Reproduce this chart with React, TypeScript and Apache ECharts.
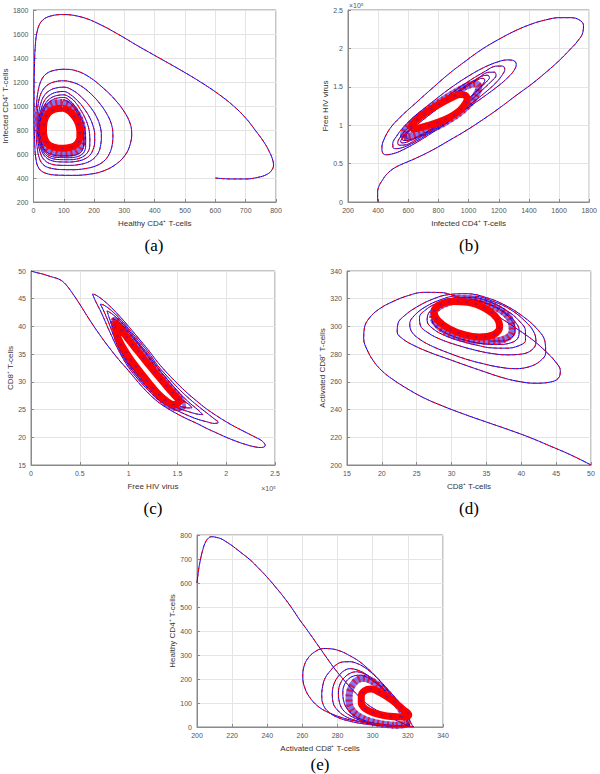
import React, { useEffect, useRef } from "react";
import * as echarts from "echarts";

type Pt = [number, number];

// ---------- axis ranges: [min, max, interval] ----------
const aXRange = [0, 800, 100];
const aYRange = [200, 1800, 200];
const bXRange = [200, 1800, 200];
const bYRange = [0, 2.5, 0.5]; // x 10^5
const cXRange = [0, 2.5, 0.5]; // x 10^5
const cYRange = [15, 50, 5];
const dXRange = [15, 50, 5];
const dYRange = [200, 340, 20];
const eXRange = [200, 340, 20];
const eYRange = [0, 800, 100];

const xNames = [
  "Healthy CD4⁺ T-cells",
  "Infected CD4⁺ T-cells",
  "Free HIV virus",
  "CD8⁺ T-cells",
  "Activated CD8⁺ T-cells",
];
const yNames = [
  "Infected CD4⁺ T-cells",
  "Free HIV virus",
  "CD8⁺ T-cells",
  "Activated CD8⁺ T-cells",
  "Healthy CD4⁺ T-cells",
];
const panelLabels = ["(a)", "(b)", "(c)", "(d)", "(e)"];
const exponentLabel = "×10⁵";

// ---------- (a) healthy (x) vs infected (y) ----------
const aPath: Pt[] = [
  [600,400],[650,392],[700,392],[740,405],[770,430],[786,465],[792,510],[788,560],[778,620],[760,700],[731,800],[700,900],[660,1000],[610,1100],[551,1200],[485,1300],[415,1400],[345,1500],[278,1600],[215,1685],[160,1740],[100,1762],[60,1752],[30,1715],[14,1640],[6,1500],[3,1300],[2,1100],[2,900],[4,700],[8,560],[18,480],[40,440],[80,424],[130,422],
  [180,430],[230,458],[275,520],[305,600],[320,690],[324,774],[318,860],[300,950],[270,1050],[230,1150],[185,1240],[145,1290],[105,1306],
  [70,1298],[42,1268],[25,1210],[15,1120],[10,1010],[8,900],[9,780],[12,660],[20,560],[35,505],[60,480],[95,470],[130,469],
  [170,478],[205,500],[232,540],[250,600],[260,680],[262,760],[258,840],[245,920],[222,1010],[190,1100],[155,1170],[125,1200],[100,1210],
  [72,1203],[48,1178],[30,1130],[19,1060],[14,980],[12,890],[13,790],[16,690],[24,600],[38,545],[60,515],[90,506],[120,505],
  [150,512],[178,530],[200,565],[215,615],[222,680],[224,750],[220,830],[208,910],[188,990],[160,1070],[130,1130],[100,1157],
  [74,1150],[52,1127],[35,1085],[24,1020],[18,950],[15,870],[16,780],[19,700],[27,625],[41,572],[62,543],[90,534],[118,533],
  [145,540],[168,558],[186,590],[197,640],[202,700],[202,760],[197,830],[186,900],[168,975],[145,1045],[122,1095],[100,1121],
  [76,1115],[55,1093],[39,1055],[28,995],[21,925],[18,850],[19,770],[22,695],[30,630],[44,585],[65,560],[92,553],[118,552],
  [142,558],[162,576],[177,608],[185,655],[186,710],[185,770],[180,835],[170,900],[155,970],[135,1040],[118,1075],[100,1093],
  [77,1087],[57,1066],[42,1030],[31,975],[24,910],[21,840],[22,765],[25,695],[33,635],[47,595],[68,575],[93,570],[118,569],
  [140,575],[157,592],[168,622],[172,670],[172,730],[170,790],[164,855],[154,920],[140,985],[122,1040],[100,1071],
  [77,1065],[58,1045],[44,1010],[34,960],[27,900],[24,835],[24,765],[27,700],[34,645],[48,608],[68,590],[93,585],[118,585],
  [138,591],[153,607],[162,635],[166,680],[166,740],[163,800],[157,865],[147,930],[133,990],[118,1030],[100,1052],
];
const aHalo: Pt[] = [
  [95,1030],[66,1020],[45,990],[32,940],[26,870],[25,800],[28,730],[36,675],[50,635],[72,612],[100,604],[125,610],[144,630],[156,665],[162,715],[162,790],[157,860],[147,920],[132,975],[115,1012],[95,1030],
];
const aLimit: Pt[] = [
  [95,982],[70,974],[52,948],[40,905],[34,850],[33,790],[36,735],[44,692],[58,665],[78,651],[100,648],[120,654],[136,670],[147,698],[153,740],[153,790],[149,845],[140,895],[126,940],[112,968],[95,982],
];

// ---------- (b) infected (x) vs virus (y, x10^5) ----------
const bPath: Pt[] = [
  [400,0],[396,0.06],[396,0.12],[404,0.2],[430,0.29],[461,0.37],[505,0.44],[544,0.48],[650,0.57],[764,0.68],[870,0.8],[983,0.93],[1100,1.08],[1202,1.22],[1310,1.38],[1421,1.54],[1520,1.7],[1600,1.84],[1670,1.98],[1725,2.1],[1758,2.21],[1762,2.3],[1735,2.37],[1680,2.4],[1600,2.4],[1510,2.37],[1421,2.32],[1310,2.23],[1202,2.12],[1090,1.99],[983,1.84],[870,1.67],[764,1.49],[650,1.29],[544,1.1],[480,0.96],[440,0.82],[425,0.71],[430,0.64],[450,0.615],[490,0.625],
  [544,0.66],[650,0.77],[764,0.91],[870,1.05],[983,1.21],[1100,1.37],[1202,1.52],[1260,1.62],[1300,1.71],[1316,1.79],[1300,1.84],[1260,1.85],[1202,1.83],[1100,1.75],[983,1.62],[870,1.47],[764,1.31],[650,1.13],[570,0.98],[520,0.85],[497,0.76],[498,0.71],[515,0.695],[545,0.7],
  [650,0.79],[764,0.93],[870,1.07],[983,1.23],[1100,1.41],[1180,1.55],[1225,1.66],[1240,1.73],[1225,1.77],[1190,1.77],[1100,1.69],[983,1.55],[870,1.39],[764,1.24],[670,1.09],[590,0.95],[545,0.84],[530,0.77],[540,0.74],[565,0.74],
  [650,0.81],[764,0.95],[870,1.1],[983,1.27],[1080,1.44],[1150,1.57],[1182,1.65],[1172,1.69],[1140,1.69],[1050,1.59],[950,1.45],[850,1.3],[750,1.15],[660,1.01],[595,0.9],[555,0.82],[550,0.78],[565,0.77],[590,0.78],
  [680,0.86],[780,0.98],[880,1.13],[980,1.3],[1060,1.45],[1115,1.56],[1138,1.62],[1125,1.65],[1090,1.64],[1010,1.55],[920,1.43],[820,1.29],[730,1.15],[650,1.02],[595,0.92],[565,0.85],[562,0.81],[575,0.8],
  [690,0.88],[790,1.0],[890,1.15],[985,1.32],[1060,1.46],[1100,1.55],[1108,1.59],[1090,1.61],[1050,1.58],[980,1.5],[900,1.4],[810,1.27],[720,1.13],[650,1.02],[605,0.93],[585,0.87],[588,0.83],[600,0.83],
];
const bHalo: Pt[] = [
  [570,0.84],[640,0.87],[720,0.92],[800,0.99],[880,1.08],[960,1.19],[1020,1.31],[1060,1.43],[1068,1.5],[1045,1.54],[1000,1.52],[940,1.46],[870,1.38],[790,1.28],[710,1.17],[640,1.06],[590,0.95],[568,0.88],[570,0.84],
];
const bLimit: Pt[] = [
  [615,0.95],[660,0.96],[720,0.99],[800,1.04],[880,1.11],[940,1.19],[975,1.27],[990,1.34],[978,1.39],[945,1.4],[900,1.37],[830,1.3],[760,1.22],[700,1.14],[650,1.06],[620,0.99],[615,0.95],
];

// ---------- (c) virus (x, x10^5) vs CD8 (y) ----------
const cPath: Pt[] = [
  [0,50],[0.06,49.7],[0.13,49.4],[0.2,49.0],[0.26,48.7],[0.31,48.3],[0.36,47.5],[0.42,46.1],[0.5,44.0],[0.6,41.2],[0.7,38.6],[0.8,36.2],[0.9,34.0],[1.0,32.0],[1.1,29.9],[1.2,28.0],[1.3,26.4],[1.4,25.2],[1.5,24.2],[1.6,23.3],[1.7,22.5],[1.8,21.6],[1.9,20.8],[2.0,20.0],[2.1,19.3],[2.2,18.7],[2.3,18.25],[2.36,18.15],[2.4,18.5],
  [2.37,19.3],[2.3,20.0],[2.2,20.9],[2.1,21.8],[2.0,22.8],[1.9,23.9],[1.8,25.1],[1.7,26.5],[1.6,28.0],[1.5,29.7],[1.4,31.5],[1.3,33.5],[1.2,35.8],[1.1,37.9],[1.0,40.0],[0.9,42.0],[0.8,43.8],[0.72,45.0],[0.66,45.7],[0.63,45.85],
  [0.66,44.6],[0.72,42.5],[0.8,39.3],[0.9,35.6],[1.0,32.6],[1.1,30.4],[1.2,28.5],[1.3,26.9],[1.4,25.7],[1.5,24.8],[1.6,24.0],[1.7,23.3],[1.8,22.8],[1.88,22.5],[1.92,22.7],
  [1.88,23.3],[1.8,24.4],[1.7,25.8],[1.6,27.3],[1.5,29.0],[1.4,30.9],[1.3,32.9],[1.2,35.4],[1.1,37.5],[1.0,39.6],[0.9,41.6],[0.8,43.2],[0.74,43.9],[0.71,44.0],
  [0.74,43.0],[0.8,40.5],[0.9,36.0],[1.0,33.0],[1.1,30.8],[1.2,28.9],[1.3,27.3],[1.4,26.1],[1.5,25.3],[1.6,24.7],[1.7,24.2],[1.76,24.1],
  [1.72,24.8],[1.6,26.6],[1.5,28.4],[1.4,30.4],[1.3,32.5],[1.2,35.0],[1.1,37.1],[1.0,39.3],[0.9,41.2],[0.82,42.4],[0.78,42.8],
  [0.8,41.6],[0.85,39.2],[0.9,36.4],[1.0,33.4],[1.1,31.2],[1.2,29.2],[1.3,27.6],[1.4,26.5],[1.5,25.8],[1.6,25.3],[1.65,25.3],
  [1.62,25.9],[1.5,27.4],[1.4,29.4],[1.3,31.8],[1.2,34.6],[1.1,36.8],[1.0,38.9],[0.9,40.8],[0.84,41.4],
];
const cHalo: Pt[] = [
  [0.83,41.0],[0.88,38.0],[1.0,33.6],[1.1,31.2],[1.2,29.1],[1.3,27.1],[1.4,25.7],[1.5,25.1],[1.57,25.6],[1.55,26.8],[1.47,28.5],[1.4,29.9],[1.3,32.1],[1.2,34.3],[1.1,36.5],[1.0,38.7],[0.92,40.5],[0.86,41.4],[0.83,41.0],
];
const cLimit: Pt[] = [
  [0.86,40.0],[0.9,37.6],[1.0,34.6],[1.1,32.2],[1.2,30.0],[1.3,27.9],[1.4,26.4],[1.47,25.9],[1.52,26.5],[1.47,27.6],[1.4,29.0],[1.3,31.1],[1.2,33.2],[1.1,35.4],[1.0,37.6],[0.92,39.5],[0.87,40.4],[0.86,40.0],
];

// ---------- (d) CD8 (x) vs activated CD8 (y) ----------
const dPath: Pt[] = [
  [50,200],[47,207.5],[44,214],[41,220.3],[38,225.8],[35,231],[32,236.3],[29,242],[26,248.5],[23.5,255.5],[21.5,262],[20,268],[18.8,275],[17.9,283],[17.4,291],[17.5,299],[18.2,306],[19.6,312.5],[21.6,318],[23.8,322.3],[26,324.6],[28.3,324.5],[30.5,322],[32.6,318],[34.8,312.5],[37.2,305.5],[39.6,297.5],[41.7,290],[43.5,282],[44.9,274.5],[45.6,268],[45.3,262.5],[44,259.7],[42,259],
  [39.4,260.5],[37,263.5],[34.6,267.5],[32,272],[29.5,276.5],[27,281],[24.7,286],[23,291],[22.2,296],[22.3,302],[23.3,308],[25,314],[27.2,319.5],[29.6,323],[32.2,323.6],[35,320.8],[37.8,315],[40.3,307],[42.3,298],[43.4,289],[43.5,281],[42.7,275],[41.2,271],[39.2,269.5],
  [37,270.5],[34.6,273],[32,276.5],[29.5,281],[27.3,285.5],[25.5,290.5],[24.3,296],[24,302],[24.7,308],[26.2,314],[28.3,319],[30.8,322],[33.3,321.8],[36,318],[38.5,312],[40.5,304],[41.8,296],[42.1,288.5],[41.5,283],[40,280],[38,279.5],
  [35.7,280.5],[33.3,283],[30.8,286.5],[28.5,290.5],[26.6,295.5],[25.5,301],[25.4,306.5],[26.3,312],[28,317],[30.4,320.5],[33,320.8],[35.6,317.5],[37.9,311.5],[39.7,304],[40.6,296.5],[40.6,290],[39.6,286],[37.8,284.3],[35.8,284.5],
  [33.6,286.5],[31.2,289.5],[29,293.5],[27.3,298.5],[26.5,304],[26.7,309.5],[27.9,314.5],[30,318.5],[32.6,319.5],[35.2,316.5],[37.4,311],[39,304],[39.7,297],[39.5,291.5],[38.4,288],[36.6,287],
  [34.5,287.5],[32,290],[29.7,294],[28,299],[27.2,304.5],[27.4,310],[28.6,314.8],[30.6,318],[33,318.5],[35.5,315.5],[37.5,310],[38.8,303],[39.1,296.5],[38.6,292],[37.3,289.5],[35.5,289.5],
];
const dHalo: Pt[] = [
  [27.3,306],[27.7,312],[29.3,316.8],[31.8,319],[34.7,317.3],[37.1,311.5],[38.5,304],[38.7,297],[37.8,291.3],[35.6,289.3],[33,290.3],[30.4,293.5],[28.4,299],[27.3,306],
];
const dLimit: Pt[] = [
  [27.4,311],[28.2,315.5],[30,318],[32.3,317.5],[34.8,313],[36.5,306],[36.9,299.5],[36,294],[34,292.3],[31.8,294],[29.6,298.5],[28,304.5],[27.4,311],
];

// ---------- (e) activated CD8 (x) vs healthy (y) ----------
const ePath: Pt[] = [
  [200,600],[200.8,650],[201.9,696],[203,730],[204.5,765],[206.6,788],[208.5,793],[211,790],[213.2,786],[217,770],[220.8,751],[225,727],[230.3,696],[235,662],[239.7,626],[244.5,585],[249.2,543],[254,495],[258.6,445],[263.4,397],[268.1,348],[272.8,299],[277.6,250],[282.3,207],[287,167],[291.8,130],[296.5,97],[301.2,74],[305.9,56],[310.6,38],[315.4,21],[319,9],[322,2],[323.5,0.5],
  [318,3],[310,8],[300,15],[290,25],[282,40],[275,60],[270,80],[265,115],[261.5,160],[260.2,210],[260.8,250],[263,285],[267,313],[272,327],[277,325],[282,315],[287,297],[292,275],[297,245],[302,209],[307,170],[312,128],[316,90],[319.5,50],[321.5,20],[322.5,5],[321,1],
  [315,2],[305,6],[295,13],[287,24],[280,40],[275,62],[272,90],[271,130],[271.5,170],[273,205],[276,235],[279,258],[283,271],[287,272],[291,265],[295,250],[299,228],[303,200],[307,165],[311,125],[315,82],[318.5,42],[320.5,15],[321,4],
  [314,3],[305,8],[297,16],[290,28],[284,46],[280,70],[277.5,100],[277,140],[278,180],[280.5,212],[284,236],[287.5,243],[291,238],[295,225],[299,205],[303,180],[307,150],[311,115],[315,75],[318.5,38],[320.3,14],[320.5,5],
  [313,4],[305,9],[298,18],[292,30],[287,48],[283,72],[281,105],[280.5,145],[281.5,180],[284,207],[287.5,225],[291,230],[294.5,224],[298,210],[302,188],[306,160],[310,125],[314,88],[317.5,50],[319.7,20],[320,8],
  [312,5],[305,10],[299,19],[293.5,32],[289,50],[285.5,75],[283.5,108],[283,145],[284,178],[286.5,202],[290,214],[293,216],[296.5,208],[300,193],[304,170],[308,140],[312,107],[315.5,72],[318.5,38],[319.8,16],[319.5,8],
];
const eHalo: Pt[] = [
  [312,7],[305,13],[299,23],[294,37],[290,56],[287.3,82],[286.5,115],[287,150],[289,180],[291.8,198],[295,203],[298.3,196],[301.5,182],[305.2,161],[309,134],[313,102],[316.5,68],[319,37],[319.5,17],[317,9],[312,7],
];
const eLimit: Pt[] = [
  [316,42],[308,46],[301,58],[296,75],[293.5,100],[293.5,130],[295.5,152],[299,158],[303,148],[308,127],[313,100],[317.5,72],[320.5,50],[319.5,43],[316,42],
];

// ---------- layout ----------
const GRIDS = [
  { left: 32, top: 10, width: 244, height: 192 },
  { left: 348, top: 10, width: 243, height: 192 },
  { left: 31, top: 271, width: 244, height: 194 },
  { left: 347, top: 271, width: 244, height: 194 },
  { left: 197, top: 535, width: 246, height: 192 },
];
const Y_NAME_GAPS = [22, 17, 14, 20, 18];
const LABEL_POS: Pt[] = [[154, 245], [469, 245], [153, 508], [469, 508], [320, 764]];

const FONT = "'Liberation Sans', Arial, Helvetica, sans-serif";
const AXIS_COLOR = "#8a8a8a";

const PANELS = [
  { x: aXRange, y: aYRange, path: aPath, halo: aHalo, limit: aLimit, haloW: 7 },
  { x: bXRange, y: bYRange, path: bPath, halo: bHalo, limit: bLimit, haloW: 7 },
  { x: cXRange, y: cYRange, path: cPath, halo: cHalo, limit: cLimit, haloW: 4 },
  { x: dXRange, y: dYRange, path: dPath, halo: dHalo, limit: dLimit, haloW: 7 },
  { x: eXRange, y: eYRange, path: ePath, halo: eHalo, limit: eLimit, haloW: 7 },
];

function axis(range: number[], name: string, gridIndex: number, nameGap: number) {
  return {
    type: "value",
    gridIndex,
    min: range[0],
    max: range[1],
    interval: range[2],
    name,
    nameLocation: "middle",
    nameGap,
    nameTextStyle: { fontSize: 8, color: "#333", fontFamily: FONT },
    axisLine: { show: true, lineStyle: { color: AXIS_COLOR, width: 1 } },
    axisTick: { show: true, inside: true, length: 3, lineStyle: { color: AXIS_COLOR } },
    axisLabel: {
      fontSize: 7,
      color: "#555",
      margin: 5,
      fontFamily: FONT,
      formatter: (v: number) => String(Math.round(v * 1000) / 1000),
    },
    splitLine: { show: true, lineStyle: { color: "#e4e4e4", width: 1 } },
  };
}

function buildOption() {
  const series: any[] = [];
  PANELS.forEach((p, i) => {
    const base = {
      type: "line",
      xAxisIndex: i,
      yAxisIndex: i,
      showSymbol: false,
      symbol: "none",
      silent: true,
      smooth: 0.4,
    };
    series.push({ ...base, data: p.halo, z: 1, lineStyle: { color: "rgba(40,30,235,0.6)", width: p.haloW } });
    series.push({ ...base, data: p.halo, z: 1, lineStyle: { color: "rgba(235,0,40,0.8)", width: p.haloW, type: [2, 3] } });
    series.push({ ...base, data: p.path, z: 2, lineStyle: { color: "#0000ff", width: 1 } });
    series.push({ ...base, data: p.path, z: 3, lineStyle: { color: "#ff0000", width: 1, type: [3, 3] } });
    series.push({ ...base, data: p.limit, z: 4, lineStyle: { color: "#ff0000", width: 7 } });
    series.push({ ...base, data: p.limit, z: 5, lineStyle: { color: "rgba(60,20,220,0.55)", width: 2, type: [2, 7] } });
  });

  const graphic: any[] = LABEL_POS.map((pos, i) => ({
    type: "text",
    x: pos[0],
    y: pos[1],
    style: {
      text: panelLabels[i],
      fontSize: 17,
      fontFamily: "'Liberation Serif', 'Times New Roman', serif",
      fill: "#000",
      textAlign: "center",
      textVerticalAlign: "middle",
    },
  }));
  graphic.push({
    type: "text",
    x: 349,
    y: 5,
    style: { text: exponentLabel, fontSize: 7, fontFamily: FONT, fill: "#555", textAlign: "left", textVerticalAlign: "middle" },
  });
  graphic.push({
    type: "text",
    x: 276,
    y: 488,
    style: { text: exponentLabel, fontSize: 7, fontFamily: FONT, fill: "#555", textAlign: "right", textVerticalAlign: "middle" },
  });

  return {
    animation: false,
    backgroundColor: "#ffffff",
    grid: GRIDS.map((g) => ({ ...g, show: true, borderColor: AXIS_COLOR, borderWidth: 1, containLabel: false })),
    xAxis: PANELS.map((p, i) => axis(p.x, xNames[i], i, 17)),
    yAxis: PANELS.map((p, i) => axis(p.y, yNames[i], i, Y_NAME_GAPS[i])),
    series,
    graphic,
  };
}

export default function App() {
  const ref = useRef<HTMLDivElement>(null);
  useEffect(() => {
    if (!ref.current) return;
    const chart = echarts.init(ref.current, undefined, { renderer: "svg" });
    chart.setOption(buildOption() as any);
    return () => chart.dispose();
  }, []);
  return (
    <div
      ref={ref}
      style={{ position: "absolute", left: 0, top: 0, width: 600, height: 774, background: "#fff" }}
    />
  );
}
